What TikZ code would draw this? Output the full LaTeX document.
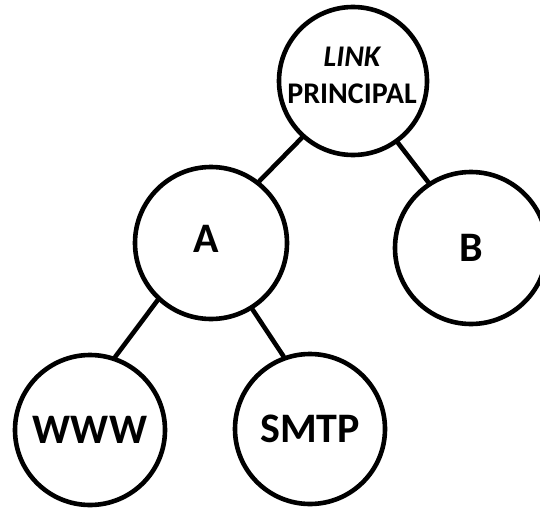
\documentclass[tikz,border=0pt]{standalone}
\usepackage{fontspec}
\setmainfont{Carlito}
\begin{document}
\begin{tikzpicture}[x=1pt,y=-1pt,
  treenode/.style={circle, draw=black, fill=white, line width=4.6pt, inner sep=0pt,
    font=\bfseries\fontsize{42}{42}\selectfont},
  caption/.style={inner sep=0pt, align=center, font=\bfseries\fontsize{30}{37}\selectfont},
  branch/.style={line width=4.6pt, line cap=round}]
\useasboundingbox (0,0) rectangle (540,508);
% nodes of the tree
\node[treenode, minimum size=148pt] (root) at (353,81) {};
\node[caption] (rootlabel) at (352,75) {{\itshape LINK}\\PRINCIPAL};
\node[treenode, minimum size=152pt] (a) at (211,243) {};
\node[treenode, draw=none, fill=none, minimum size=0pt] (alabel) at (206,239) {A};
\node[treenode, minimum size=152pt] (b) at (471,248) {B};
\node[treenode, minimum size=150pt] (www) at (90,430) {WWW};
\node[treenode, minimum size=150pt] (smtp) at (310,429) {SMTP};
% branches
\draw[branch] (root.228) -- (a.52);
\draw[branch] (root.306) -- (b.123);
\draw[branch] (a.227) -- (www.71);
\draw[branch] (a.302) -- (smtp.110);
\end{tikzpicture}
\end{document}
